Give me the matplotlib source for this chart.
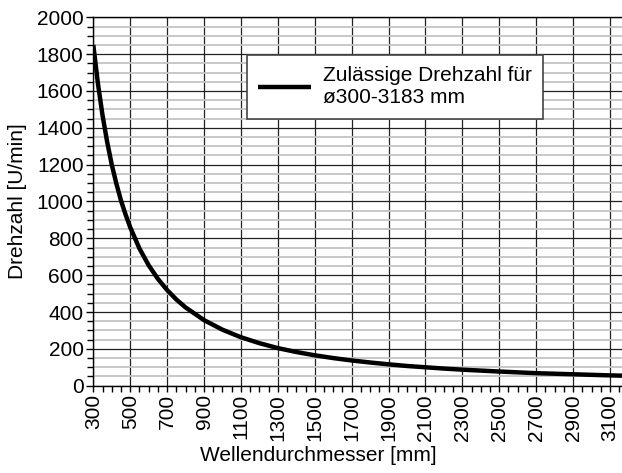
import matplotlib
matplotlib.use("Agg")
import matplotlib.pyplot as plt
from matplotlib.ticker import MultipleLocator, FixedLocator

plt.rcParams['font.family'] = ['Liberation Sans', 'DejaVu Sans']

# Data
diameter_mm = [300, 325, 350, 375, 400, 425, 450, 475, 500, 550, 600, 650, 700, 750,
               800, 900, 1000, 1100, 1200, 1300, 1400, 1500, 1600, 1700, 1800, 1900,
               2000, 2100, 2200, 2300, 2500, 2700, 2900, 3100, 3183]
speed_rpm = [1850, 1641, 1468, 1324, 1200, 1097, 1005, 929, 860, 745, 654, 580, 519, 468,
             425, 356, 304, 263, 231, 204, 183, 165, 150, 137, 126, 116,
             107, 100, 93, 87, 77, 68, 62, 56, 54]
x_ticks = list(range(300, 3101, 200))
y_ticks = list(range(0, 2001, 200))
legend_label = "Zulässige Drehzahl für\nø300-3183 mm"

FS = 15
W, H = 622, 473
fig = plt.figure(figsize=(W / 100, H / 100), dpi=100)
left, right, top, bottom = 93.3, 625.3, 17.3, 385.7
ax = fig.add_axes([left / W, 1 - bottom / H, (right - left) / W, (bottom - top) / H])

ax.set_xlim(300, 3183)
ax.set_ylim(0, 2000)

ax.xaxis.set_major_locator(FixedLocator(x_ticks))
ax.xaxis.set_minor_locator(MultipleLocator(50))
ax.yaxis.set_major_locator(FixedLocator(y_ticks))
ax.yaxis.set_minor_locator(MultipleLocator(50))

# grid
ax.grid(which='minor', axis='y', color='#c4c4c4', linewidth=1.3, zorder=0)
ax.grid(which='major', axis='both', color='#222222', linewidth=0.9, zorder=1)
ax.set_axisbelow(True)

ax.plot(diameter_mm, speed_rpm, color='black', linewidth=3.2, label=legend_label,
        solid_capstyle='butt', zorder=3)

ax.set_xticks(x_ticks)
ax.set_xticklabels([str(v) for v in x_ticks], rotation=90, fontsize=FS)
ax.set_yticks(y_ticks)
ax.set_yticklabels([str(v) for v in y_ticks], fontsize=FS)

ax.tick_params(which='major', direction='out', length=5, width=1, color='black', pad=2)
ax.tick_params(which='minor', direction='out', length=4, width=1, color='black')
ax.tick_params(axis='x', which='both', length=4)

for s in ['left', 'top', 'bottom', 'right']:
    ax.spines[s].set_color('black')
    ax.spines[s].set_linewidth(1)

ax.set_xlabel("Wellendurchmesser [mm]", fontsize=FS)
ax.set_ylabel("Drehzahl [U/min]", fontsize=FS)
ax.xaxis.set_label_coords((318.5 - left) / (right - left), -(446 - bottom) / (bottom - top))
ax.yaxis.set_label_coords(-(left - 27) / (right - left), 0.5)

leg = ax.legend(loc='upper left', bbox_to_anchor=(247 / W, 1 - 55 / H),
                bbox_transform=fig.transFigure, borderaxespad=0, fontsize=FS,
                fancybox=False, framealpha=1, edgecolor='#444444',
                handlelength=2.5, handletextpad=0.6, borderpad=0.55, labelspacing=0.2)
leg.get_frame().set_linewidth(1.2)

fig.savefig("out.png", dpi=100)
